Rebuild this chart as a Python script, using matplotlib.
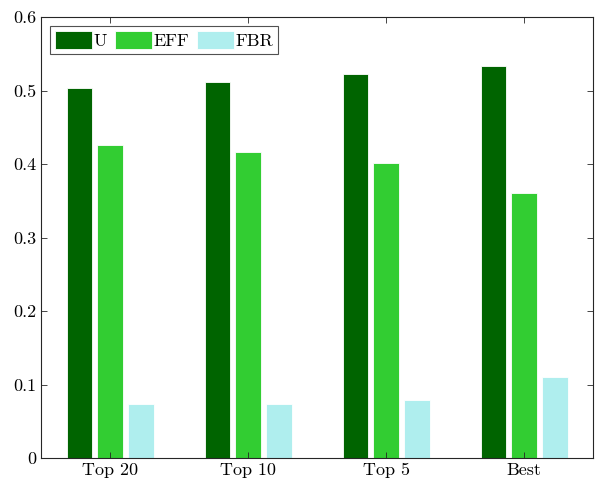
import numpy as np
import matplotlib
matplotlib.use("Agg")
import matplotlib.pyplot as plt

# data
categories = ["Top 20", "Top 10", "Top 5", "Best"]
u_vals = [0.503, 0.512, 0.522, 0.533]
eff_vals = [0.426, 0.417, 0.402, 0.360]
fbr_vals = [0.073, 0.074, 0.079, 0.110]
series_names = ["U", "EFF", "FBR"]
colors = ["#006400", "#32CD32", "#AFEEEE"]

plt.rcParams["font.family"] = "serif"
plt.rcParams["font.serif"] = ["cmr10"]
plt.rcParams["mathtext.fontset"] = "cm"
plt.rcParams["axes.formatter.use_mathtext"] = True

fig = plt.figure(figsize=(5.95, 4.87), dpi=100)
ax = fig.add_axes([0.069, 0.0595, 0.928, 0.9055])

x = np.arange(1, len(categories) + 1)
width = 0.186
offset = 0.222
for i, (vals, name, c) in enumerate(zip([u_vals, eff_vals, fbr_vals], series_names, colors)):
    ax.bar(x + (i - 1) * offset, vals, width, color=c, label=name,
           edgecolor="white", linewidth=0.6)

ax.set_xlim(0.5, 4.5)
ax.set_ylim(0, 0.6)
ax.set_xticks(x)
ax.set_xticklabels(categories)
ax.set_yticks(np.arange(0, 0.61, 0.1))
ax.set_yticklabels(["0", "0.1", "0.2", "0.3", "0.4", "0.5", "0.6"])
ax.tick_params(direction="in", top=True, right=True, labelsize=13, length=4,
               width=0.6, color="#262626")
for s in ax.spines.values():
    s.set_linewidth(0.8)
    s.set_color("#262626")

leg = ax.legend(loc="upper left", ncol=3, fontsize=13, frameon=True, fancybox=False,
                edgecolor="#262626", handlelength=2.05, handleheight=1.2,
                handletextpad=0.08, columnspacing=0.45, borderpad=0.25,
                borderaxespad=0.5)
leg.get_frame().set_linewidth(0.8)

fig.savefig("out.png", dpi=100)
